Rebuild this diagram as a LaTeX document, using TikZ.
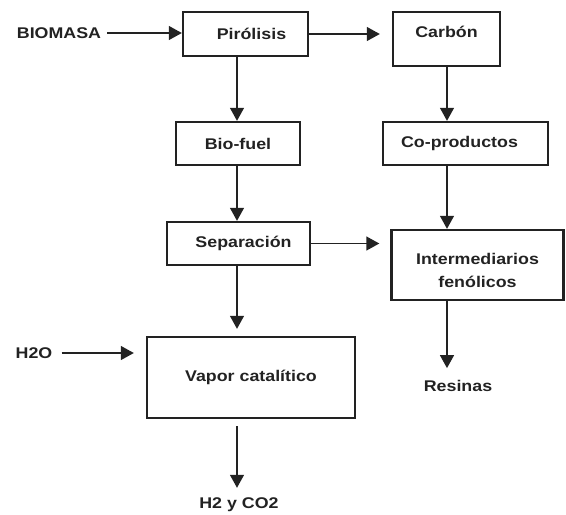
\documentclass[tikz,border=0pt]{standalone}
\usepackage{fontspec}
\setmainfont{Liberation Sans}[FakeStretch=1.15]
\usetikzlibrary{arrows.meta}
\definecolor{ink}{HTML}{222222}
\tikzset{
  box/.style={draw=ink, line width=2.4pt, inner sep=0pt, font=\bfseries\fontsize{15.5}{18}\selectfont, text=ink, align=center},
  lbl/.style={inner sep=0pt, font=\bfseries\fontsize{15.5}{18}\selectfont, text=ink, align=center},
  arr/.style={draw=ink, line width=1.4pt, -{Triangle[length=13pt,width=14pt]}}
}
\begin{document}
\begin{tikzpicture}[x=1pt,y=-1pt]
\useasboundingbox (0,0) rectangle (566,515);
\node[box, minimum width=125pt, minimum height=44pt, text width=125pt] (pir) at (245.5,34) {\hspace*{12pt}Pirólisis};
\node[box, minimum width=107pt, minimum height=54pt, text height=11pt, text depth=14pt] (carb) at (446.5,39) {Carbón};
\node[box, minimum width=124pt, minimum height=43pt] (bio) at (238,143.5) {Bio-fuel};
\node[box, minimum width=165pt, minimum height=43pt, text width=165pt] (cop) at (465.5,143.5) {Co-productos\hspace*{12pt}};
\node[box, minimum width=143pt, minimum height=43pt, text width=143pt] (sep) at (238.5,243.5) {\hspace*{10pt}Separación};
\node[box, minimum width=172pt, minimum height=70pt] (int) at (477.5,265) {};
\node[lbl] (intt) at (477.5,270) {Intermediarios\\[5pt]fenólicos};
\node[box, minimum width=208pt, minimum height=81pt] (vap) at (251,377.5) {Vapor catalítico};
\node[lbl] (biom) at (59,33) {BIOMASA};
\node[lbl] (h2o) at (34,353) {H2O};
\node[lbl] (res) at (458,386) {Resinas};
\node[lbl] (h2) at (239,505) {H2 y CO2};
\coordinate (xl) at (237,0);
\coordinate (xr) at (447,0);
\draw[arr, shorten <=6pt] (biom.east) -- (biom.east -| pir.west);
\draw[arr, shorten >=12pt] (pir.east) -- (pir.east -| carb.west);
\draw[arr] (pir.south -| xl) -- (bio.north -| xl);
\draw[arr] (carb.south -| xr) -- (cop.north -| xr);
\draw[arr] (bio.south -| xl) -- (sep.north -| xl);
\draw[arr] (cop.south -| xr) -- (int.north -| xr);
\draw[arr, shorten >=11pt] (sep.east) -- (sep.east -| int.west);
\draw[arr, shorten >=7pt] (sep.south -| xl) -- (vap.north -| xl);
\draw[arr, shorten <=9pt, shorten >=12pt] (h2o.east) -- (h2o -| vap.west);
\draw[arr, shorten >=12pt] (int.south -| xr) -- (res.north -| xr);
\draw[arr, shorten <=7pt, shorten >=10pt] (vap.south -| xl) -- (h2.north -| xl);
\end{tikzpicture}
\end{document}
